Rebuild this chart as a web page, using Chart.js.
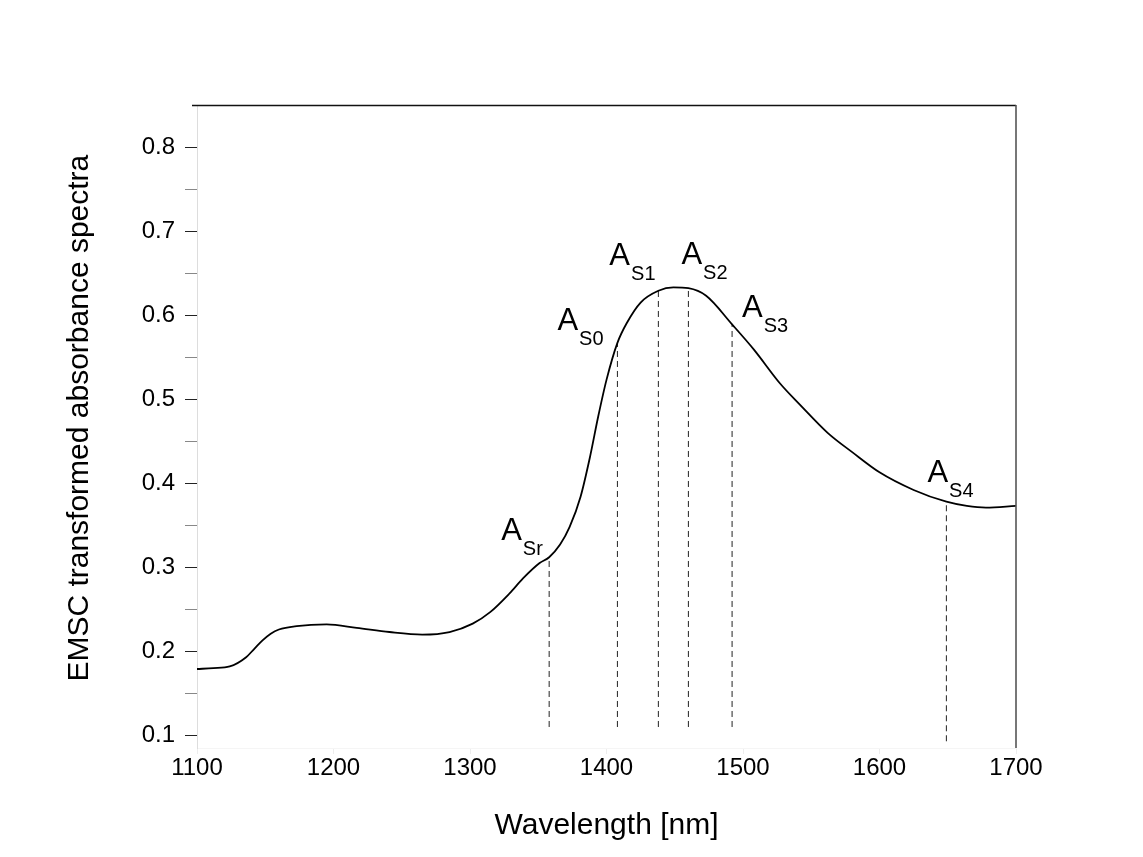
<!DOCTYPE html>
<html>
<head>
<meta charset="utf-8">
<script src="https://cdn.jsdelivr.net/npm/chart.js@4/dist/chart.umd.min.js"></script>
<style>
  html, body { margin: 0; padding: 0; background: #ffffff; }
  #wrap { width: 1143px; height: 857px; position: relative; }
</style>
</head>
<body>
<div id="wrap"><canvas id="c" width="1143" height="857"></canvas></div>
<script>
// ---- data ----
const wavelengths = [1100, 1112, 1124, 1136, 1142, 1148, 1154, 1160, 1173, 1195, 1217, 1241, 1265, 1285, 1302, 1315, 1329, 1339, 1351, 1358, 1366, 1373, 1381, 1388, 1394, 1400, 1408, 1415, 1425, 1438, 1449, 1460, 1473, 1492, 1508, 1527, 1542, 1562, 1580, 1600, 1625, 1649, 1664, 1678, 1700];
const absorbance  = [0.179, 0.180, 0.182, 0.193, 0.203, 0.213, 0.221, 0.226, 0.230, 0.232, 0.228, 0.223, 0.220, 0.223, 0.233, 0.247, 0.269, 0.287, 0.305, 0.312, 0.327, 0.348, 0.384, 0.432, 0.480, 0.523, 0.567, 0.591, 0.615, 0.629, 0.633, 0.632, 0.623, 0.589, 0.559, 0.519, 0.493, 0.460, 0.437, 0.413, 0.392, 0.378, 0.373, 0.371, 0.373];

const markerNames   = ['Sr', 'S0', 'S1', 'S2', 'S3', 'S4'];
const markerX       = [1358, 1408, 1438, 1460, 1492, 1649];
const markerTop     = [0.312, 0.567, 0.629, 0.632, 0.589, 0.378];
const markerBottom  = [0.110, 0.110, 0.110, 0.110, 0.110, 0.093];

const xTickValues = [1100, 1200, 1300, 1400, 1500, 1600, 1700];
const xTickLabels = ['1100', '1200', '1300', '1400', '1500', '1600', '1700'];
const yTickValues = [0.1, 0.15, 0.2, 0.25, 0.3, 0.35, 0.4, 0.45, 0.5, 0.55, 0.6, 0.65, 0.7, 0.75, 0.8];
const yTickLabels = ['0.1', '', '0.2', '', '0.3', '', '0.4', '', '0.5', '', '0.6', '', '0.7', '', '0.8'];

// ---- label placement (pixel offsets from the marker top) ----
const labelOffsets = [[-48, -17], [-60, -13], [-49, -26], [-7, -24], [10, -7], [-19, -20]];

const FONT = "'Liberation Sans', Arial, Helvetica, sans-serif";

const datasets = [{
  label: 'spectrum',
  data: wavelengths.map((w, i) => ({ x: w, y: absorbance[i] })),
  borderColor: '#000000',
  borderWidth: 1.8,
  pointRadius: 0,
  fill: false,
  cubicInterpolationMode: 'monotone',
  order: 0
}];
markerX.forEach((w, i) => {
  datasets.push({
    label: 'A' + markerNames[i],
    data: [{ x: w, y: markerBottom[i] }, { x: w, y: markerTop[i] }],
    borderColor: '#222222',
    borderWidth: 1,
    borderDash: [6, 4],
    pointRadius: 0,
    fill: false,
    order: 1
  });
});

const framePlugin = {
  id: 'frame',
  afterDatasetsDraw(chart) {
    const { ctx, chartArea: a } = chart;
    ctx.save();
    ctx.strokeStyle = '#111111';
    ctx.lineWidth = 1.3;
    ctx.beginPath();
    ctx.moveTo(a.left - 5, a.top + 0.5);
    ctx.lineTo(a.right, a.top + 0.5);
    ctx.stroke();
    ctx.strokeStyle = '#555555';
    ctx.lineWidth = 1.6;
    ctx.beginPath();
    ctx.moveTo(a.right, a.top);
    ctx.lineTo(a.right, a.bottom);
    ctx.stroke();
    ctx.restore();
  }
};

const labelPlugin = {
  id: 'markerLabels',
  afterDatasetsDraw(chart) {
    const { ctx, scales } = chart;
    ctx.save();
    ctx.fillStyle = '#000000';
    ctx.textBaseline = 'alphabetic';
    ctx.textAlign = 'left';
    markerNames.forEach((name, i) => {
      const px = scales.x.getPixelForValue(markerX[i]);
      const py = scales.y.getPixelForValue(markerTop[i]);
      const x0 = px + labelOffsets[i][0];
      const y0 = py + labelOffsets[i][1];
      ctx.font = '31px ' + FONT;
      ctx.fillText('A', x0, y0);
      const w = ctx.measureText('A').width;
      ctx.font = '20px ' + FONT;
      ctx.fillText(name, x0 + w + 1, y0 + 15);
    });
    ctx.restore();
  }
};

new Chart(document.getElementById('c'), {
  type: 'line',
  data: { datasets },
  plugins: [framePlugin, labelPlugin],
  options: {
    responsive: false,
    animation: false,
    devicePixelRatio: 1,
    layout: { padding: { left: 0, top: 105, right: 127, bottom: 0 } },
    plugins: { legend: { display: false }, tooltip: { enabled: false }, title: { display: false } },
    scales: {
      x: {
        type: 'linear',
        min: 1100,
        max: 1700,
        afterBuildTicks(scale) { scale.ticks = xTickValues.map(v => ({ value: v })); },
        afterFit(scale) { scale.height = 109; },
        ticks: {
          color: '#000000',
          font: { family: FONT, size: 24 },
          padding: 0,
          maxRotation: 0,
          autoSkip: false,
          callback: (v) => { const k = xTickValues.indexOf(v); return k >= 0 ? xTickLabels[k] : ''; }
        },
        grid: { drawOnChartArea: false, drawTicks: true, tickLength: 6, tickColor: 'rgba(0,0,0,0.07)' },
        border: { display: true, color: 'rgba(0,0,0,0.04)', width: 1 },
        title: {
          display: true,
          text: 'Wavelength [nm]',
          color: '#000000',
          font: { family: FONT, size: 30 },
          padding: { top: 0, bottom: 13 }
        }
      },
      y: {
        type: 'linear',
        min: 0.085,
        max: 0.85,
        afterBuildTicks(scale) { scale.ticks = yTickValues.map(v => ({ value: v })); },
        afterFit(scale) { scale.width = 197; },
        ticks: {
          color: '#000000',
          font: { family: FONT, size: 24 },
          padding: 10,
          autoSkip: false,
          callback: (v) => {
            const k = yTickValues.findIndex(t => Math.abs(t - v) < 1e-9);
            return k >= 0 ? yTickLabels[k] : '';
          }
        },
        grid: {
          drawOnChartArea: false,
          drawTicks: true,
          tickLength: 12,
          tickColor: (c) => {
            const v = c.tick ? c.tick.value : 0;
            return Math.abs(Math.round(v * 10) - v * 10) < 1e-6 ? '#222222' : '#888888';
          }
        },
        border: { display: true, color: '#dddddd', width: 1 },
        title: {
          display: true,
          text: '  EMSC transformed absorbance spectra',
          color: '#000000',
          font: { family: FONT, size: 30 },
          padding: { top: 62, bottom: 0 }
        }
      }
    }
  }
});
</script>
</body>
</html>
